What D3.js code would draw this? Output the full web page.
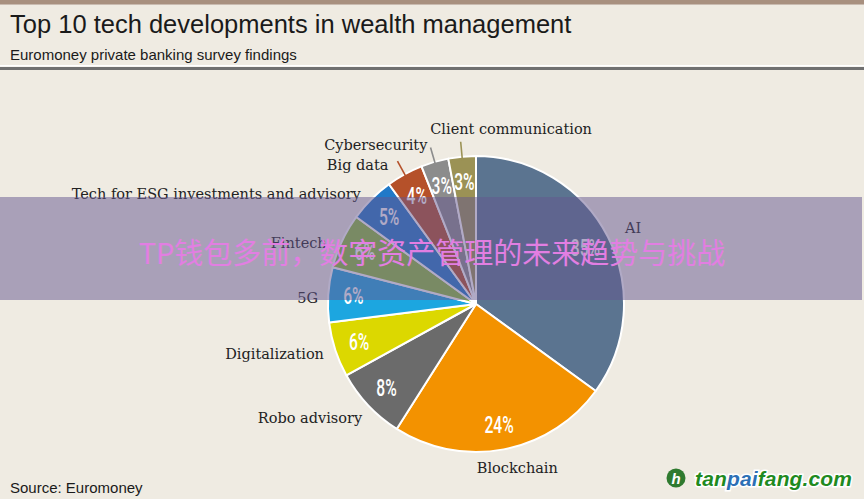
<!DOCTYPE html>
<html>
<head>
<meta charset="utf-8">
<script src="https://cdn.jsdelivr.net/npm/d3@7"></script>
<style>
  body { margin: 0; background: #efebe2; }
  svg { display: block; }
</style>
</head>
<body>
<svg id="chart"></svg>
<script>
// survey data, clockwise from 12 o'clock
const categories = ["AI", "Blockchain", "Robo advisory", "Digitalization", "5G", "Fintech",
    "Tech for ESG investments and advisory", "Big data", "Cybersecurity", "Client communication"];
const shares = [35, 24, 8, 6, 6, 6, 5, 4, 3, 3];
const sliceColors = ["#5b7490", "#f39200", "#6b6b6b", "#dcd800", "#1ca6e0", "#8fbf3a",
    "#2079c8", "#b5512a", "#8c8c8c", "#9b9255"];

const W = 864, H = 499;
const cx = 476, cy = 304, r = 148;

// small nudges for outer labels (layout only)
const nudge = {
    "Blockchain": [10, 0],
    "Robo advisory": [8, 0],
    "Digitalization": [7, -2],
    "5G": [9, 4],
    "Fintech": [2, 10],
    "Tech for ESG investments and advisory": [3, 8],
    "Big data": [-7, 8],
    "Cybersecurity": [-2, 2],
    "Client communication": [-30, -9]
};
const withLeader = ["Big data", "Cybersecurity", "Client communication"];

const svg = d3.select("#chart").attr("width", W).attr("height", H);

svg.append("rect").attr("width", W).attr("height", H).attr("fill", "#efebe2");

// header bars
svg.append("rect").attr("x", 0).attr("y", 0).attr("width", W).attr("height", 4).attr("fill", "#a8907f");
svg.append("rect").attr("x", 0).attr("y", 4).attr("width", W).attr("height", 1).attr("fill", "#c9bbb0");
svg.append("rect").attr("x", 0).attr("y", 65).attr("width", W).attr("height", 1.5).attr("fill", "#ffffff");
svg.append("rect").attr("x", 0).attr("y", 67).attr("width", W).attr("height", 3).attr("fill", "#707070");

svg.append("text")
    .attr("x", 10).attr("y", 33)
    .style("font-family", "'Liberation Sans', Arial, sans-serif")
    .style("font-size", "25.5px")
    .style("fill", "#1a1a1a")
    .text("Top 10 tech developments in wealth management");

svg.append("text")
    .attr("x", 10).attr("y", 60)
    .style("font-family", "'Liberation Sans', Arial, sans-serif")
    .style("font-size", "15px")
    .style("fill", "#1a1a1a")
    .text("Euromoney private banking survey findings");

// pie
const data = categories.map((c, i) => ({ name: c, value: shares[i], color: sliceColors[i] }));
const pie = d3.pie().sort(null).value(d => d.value);
const arcs = pie(data);
const arc = d3.arc().innerRadius(0).outerRadius(r);
const labelArc = d3.arc().innerRadius(r * 0.83).outerRadius(r * 0.83);
const outerArc = d3.arc().innerRadius(r * 1.13).outerRadius(r * 1.13);

const g = svg.append("g").attr("transform", `translate(${cx},${cy})`);

g.selectAll("path.slice")
    .data(arcs)
    .enter().append("path")
    .attr("class", "slice")
    .attr("d", arc)
    .attr("fill", d => d.data.color)
    .attr("stroke", "#ffffff")
    .attr("stroke-width", 2)
    .attr("stroke-linejoin", "round");

// percent labels
g.selectAll("text.pct")
    .data(arcs)
    .enter().append("text")
    .attr("class", "pct")
    .attr("transform", d => {
        const [x, y] = labelArc.centroid(d);
        return `translate(${x},${y + 8}) scale(0.68,1)`;
    })
    .attr("text-anchor", "middle")
    .style("font-family", "Roboto, 'Liberation Sans', sans-serif")
    .style("font-weight", "500")
    .style("font-size", "23px")
    .style("fill", "#ffffff")
    .text(d => d.data.value + "%");

// leader lines
const ring = rad => d3.arc().innerRadius(rad).outerRadius(rad);
g.selectAll("line.leader")
    .data(arcs.filter(d => withLeader.includes(d.data.name)))
    .enter().append("line")
    .attr("class", "leader")
    .attr("x1", d => ring(r - 4).centroid(d)[0])
    .attr("y1", d => ring(r - 4).centroid(d)[1])
    .attr("x2", d => ring(r + 15).centroid(d)[0])
    .attr("y2", d => ring(r + 15).centroid(d)[1])
    .attr("stroke", d => d.data.color)
    .attr("stroke-width", 1.6);

// category labels
g.selectAll("text.cat")
    .data(arcs)
    .enter().append("text")
    .attr("class", "cat")
    .attr("x", d => outerArc.centroid(d)[0] + (nudge[d.data.name] || [0, 0])[0])
    .attr("y", d => outerArc.centroid(d)[1] + 5 + (nudge[d.data.name] || [0, 0])[1])
    .attr("text-anchor", d => {
        if (d.data.name === "Client communication") return "start";
        const mid = (d.startAngle + d.endAngle) / 2;
        if (mid > Math.PI * 0.9 && mid < Math.PI * 1.1) return "middle";
        return mid < Math.PI ? "start" : "end";
    })
    .style("font-family", "'DejaVu Serif', serif")
    .style("font-size", "14.5px")
    .style("fill", "#222222")
    .text(d => d.data.name);

// source
svg.append("text")
    .attr("x", 10).attr("y", 493)
    .style("font-family", "'Liberation Sans', Arial, sans-serif")
    .style("font-size", "15px")
    .style("fill", "#1a1a1a")
    .text("Source: Euromoney");

// overlay band with watermark
svg.append("rect")
    .attr("x", 0).attr("y", 197).attr("width", 862).attr("height", 103)
    .attr("fill", "rgb(99,85,141)").attr("fill-opacity", 0.5);

svg.append("text")
    .attr("x", 432).attr("y", 264)
    .attr("text-anchor", "middle")
    .style("font-family", "'Noto Sans CJK SC', sans-serif")
    .style("font-size", "29px")
    .style("fill", "#e27ee2")
    .text("TP钱包多前，数字资产管理的未来趋势与挑战");

// site logo
const logo = svg.append("g");
logo.append("circle").attr("cx", 676).attr("cy", 478).attr("r", 9.5).attr("fill", "#2f7a2f");
logo.append("text")
    .attr("x", 676).attr("y", 484)
    .attr("text-anchor", "middle")
    .style("font-family", "'Liberation Sans', sans-serif")
    .style("font-weight", "bold")
    .style("font-style", "italic")
    .style("font-size", "15px")
    .style("fill", "#ffffff")
    .text("h");

const site = logo.append("text")
    .attr("x", 695).attr("y", 486)
    .style("font-family", "'Liberation Sans', Arial, sans-serif")
    .style("font-weight", "bold")
    .style("font-style", "italic")
    .style("font-size", "21px")
    .style("stroke", "#ffffff")
    .style("stroke-width", 3)
    .style("paint-order", "stroke")
    .attr("textLength", 157);
site.append("tspan").style("fill", "#1f8a1f").text("tan");
site.append("tspan").style("fill", "#2c6fb5").text("pai");
site.append("tspan").style("fill", "#1f8a1f").text("fang.com");
</script>
</body>
</html>
